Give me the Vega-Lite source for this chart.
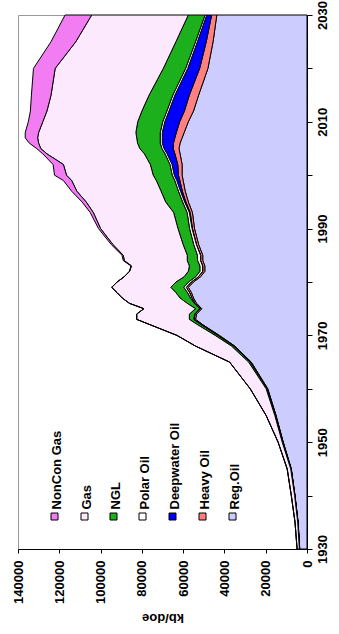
{
  "$schema": "https://vega.github.io/schema/vega-lite/v6.json",
  "autosize": {"type": "none"},
  "width": 289,
  "height": 534,
  "padding": {"left": 18, "top": 15, "right": 32, "bottom": 85},
  "background": "white",
  "config": {
    "view": {"stroke": "#999999", "strokeWidth": 1},
    "font": "Liberation Sans",
    "axis": {
      "labelFont": "Liberation Sans",
      "labelFontWeight": "bold",
      "labelFontSize": 13,
      "labelColor": "black",
      "titleFont": "Liberation Sans",
      "titleFontWeight": "bold",
      "titleFontSize": 13,
      "titleColor": "black",
      "domainColor": "black",
      "tickColor": "black",
      "grid": false
    },
    "legend": {
      "labelFont": "Liberation Sans",
      "labelFontWeight": "bold",
      "labelFontSize": 13,
      "labelColor": "black"
    }
  },
  "data": {
    "values": [
      {"year": 1930, "reg": 3500, "heavy": 100, "deep": 0, "polar": 0, "ngl": 100, "gas": 1100, "noncon": 0},
      {"year": 1935, "reg": 4300, "heavy": 100, "deep": 0, "polar": 0, "ngl": 100, "gas": 1300, "noncon": 0},
      {"year": 1940, "reg": 5800, "heavy": 100, "deep": 0, "polar": 0, "ngl": 100, "gas": 1600, "noncon": 0},
      {"year": 1945, "reg": 7600, "heavy": 100, "deep": 0, "polar": 0, "ngl": 200, "gas": 1700, "noncon": 0},
      {"year": 1950, "reg": 11500, "heavy": 200, "deep": 0, "polar": 0, "ngl": 300, "gas": 2000, "noncon": 0},
      {"year": 1955, "reg": 15000, "heavy": 200, "deep": 0, "polar": 0, "ngl": 400, "gas": 4200, "noncon": 0},
      {"year": 1960, "reg": 19000, "heavy": 300, "deep": 0, "polar": 0, "ngl": 500, "gas": 7700, "noncon": 0},
      {"year": 1965, "reg": 27000, "heavy": 500, "deep": 0, "polar": 0, "ngl": 800, "gas": 9200, "noncon": 0},
      {"year": 1968, "reg": 35000, "heavy": 600, "deep": 0, "polar": 0, "ngl": 1000, "gas": 17400, "noncon": 0},
      {"year": 1970, "reg": 42500, "heavy": 700, "deep": 0, "polar": 0, "ngl": 1300, "gas": 18500, "noncon": 0},
      {"year": 1972, "reg": 50500, "heavy": 800, "deep": 0, "polar": 0, "ngl": 1700, "gas": 23000, "noncon": 0},
      {"year": 1973, "reg": 54000, "heavy": 800, "deep": 0, "polar": 100, "ngl": 2100, "gas": 25500, "noncon": 0},
      {"year": 1974, "reg": 53500, "heavy": 800, "deep": 0, "polar": 100, "ngl": 2600, "gas": 25500, "noncon": 0},
      {"year": 1975, "reg": 51000, "heavy": 800, "deep": 0, "polar": 200, "ngl": 2000, "gas": 25000, "noncon": 0},
      {"year": 1976, "reg": 53500, "heavy": 800, "deep": 0, "polar": 300, "ngl": 3400, "gas": 28000, "noncon": 0},
      {"year": 1977, "reg": 55000, "heavy": 800, "deep": 0, "polar": 700, "ngl": 5000, "gas": 28000, "noncon": 0},
      {"year": 1978, "reg": 56000, "heavy": 900, "deep": 0, "polar": 1000, "ngl": 5600, "gas": 28500, "noncon": 0},
      {"year": 1979, "reg": 57500, "heavy": 1000, "deep": 0, "polar": 1200, "ngl": 6300, "gas": 28600, "noncon": 0},
      {"year": 1980, "reg": 55000, "heavy": 1000, "deep": 100, "polar": 1300, "ngl": 6100, "gas": 28500, "noncon": 0},
      {"year": 1981, "reg": 51500, "heavy": 1000, "deep": 100, "polar": 1300, "ngl": 5600, "gas": 29000, "noncon": 0},
      {"year": 1982, "reg": 49500, "heavy": 1000, "deep": 100, "polar": 1300, "ngl": 5600, "gas": 28500, "noncon": 0},
      {"year": 1983, "reg": 49500, "heavy": 1000, "deep": 100, "polar": 1300, "ngl": 5100, "gas": 28000, "noncon": 300},
      {"year": 1984, "reg": 50500, "heavy": 1000, "deep": 100, "polar": 1400, "ngl": 5000, "gas": 30500, "noncon": 500},
      {"year": 1985, "reg": 50500, "heavy": 1000, "deep": 100, "polar": 1500, "ngl": 4900, "gas": 31000, "noncon": 600},
      {"year": 1987, "reg": 52500, "heavy": 1000, "deep": 100, "polar": 1300, "ngl": 5100, "gas": 34000, "noncon": 800},
      {"year": 1990, "reg": 54500, "heavy": 1000, "deep": 200, "polar": 1200, "ngl": 5600, "gas": 37500, "noncon": 1000},
      {"year": 1993, "reg": 55500, "heavy": 1100, "deep": 400, "polar": 1100, "ngl": 6500, "gas": 38900, "noncon": 1500},
      {"year": 1995, "reg": 57500, "heavy": 1200, "deep": 600, "polar": 1000, "ngl": 8200, "gas": 38500, "noncon": 2000},
      {"year": 1997, "reg": 59000, "heavy": 1400, "deep": 900, "polar": 1000, "ngl": 8400, "gas": 40800, "noncon": 2500},
      {"year": 1999, "reg": 60000, "heavy": 1600, "deep": 1500, "polar": 1000, "ngl": 8900, "gas": 41000, "noncon": 4000},
      {"year": 2000, "reg": 60500, "heavy": 1800, "deep": 2000, "polar": 1000, "ngl": 9200, "gas": 42000, "noncon": 5800},
      {"year": 2002, "reg": 60500, "heavy": 2100, "deep": 2800, "polar": 1000, "ngl": 9500, "gas": 42100, "noncon": 5000},
      {"year": 2004, "reg": 61500, "heavy": 2500, "deep": 3800, "polar": 1000, "ngl": 10000, "gas": 47200, "noncon": 2000},
      {"year": 2005, "reg": 62000, "heavy": 2800, "deep": 4500, "polar": 1000, "ngl": 10700, "gas": 48000, "noncon": 2000},
      {"year": 2006, "reg": 61500, "heavy": 3200, "deep": 5400, "polar": 1000, "ngl": 11000, "gas": 47900, "noncon": 4500},
      {"year": 2007, "reg": 60500, "heavy": 3500, "deep": 6100, "polar": 1000, "ngl": 11400, "gas": 48000, "noncon": 6000},
      {"year": 2008, "reg": 59500, "heavy": 3800, "deep": 6800, "polar": 1000, "ngl": 11800, "gas": 47100, "noncon": 6500},
      {"year": 2010, "reg": 57500, "heavy": 4200, "deep": 7200, "polar": 1000, "ngl": 12100, "gas": 46000, "noncon": 7000},
      {"year": 2012, "reg": 55000, "heavy": 4400, "deep": 7500, "polar": 1000, "ngl": 12100, "gas": 46000, "noncon": 8000},
      {"year": 2015, "reg": 52500, "heavy": 4500, "deep": 7000, "polar": 1000, "ngl": 11500, "gas": 47500, "noncon": 9500},
      {"year": 2020, "reg": 48000, "heavy": 4000, "deep": 5800, "polar": 1000, "ngl": 10800, "gas": 52400, "noncon": 10500},
      {"year": 2025, "reg": 45500, "heavy": 3300, "deep": 4300, "polar": 900, "ngl": 9500, "gas": 48500, "noncon": 12000},
      {"year": 2030, "reg": 43700, "heavy": 2500, "deep": 2400, "polar": 800, "ngl": 8100, "gas": 46800, "noncon": 12900}
    ]
  },
  "transform": [
    {"fold": ["reg", "heavy", "deep", "polar", "ngl", "gas", "noncon"], "as": ["series", "kbdoe"]},
    {"window": [{"op": "row_number", "as": "layer"}], "groupby": ["year"]}
  ],
  "mark": {"type": "area", "orient": "horizontal", "stroke": "black", "strokeWidth": 1, "strokeJoin": "round"},
  "encoding": {
    "y": {
      "field": "year",
      "type": "quantitative",
      "scale": {"domain": [1930, 2030], "nice": false, "zero": false},
      "axis": {
        "orient": "right",
        "title": null,
        "values": [1930, 1940, 1950, 1960, 1970, 1980, 1990, 2000, 2010, 2020, 2030],
        "format": "d",
        "labelExpr": "datum.value % 20 == 10 ? datum.label : ''",
        "labelAngle": 270,
        "labelAlign": "center",
        "labelBaseline": "top",
        "tickSize": 5,
        "labelPadding": 4
      }
    },
    "x": {
      "field": "kbdoe",
      "type": "quantitative",
      "stack": "zero",
      "scale": {"domain": [0, 140000], "reverse": true, "nice": false},
      "axis": {
        "orient": "bottom",
        "title": "kb/doe",
        "values": [0, 20000, 40000, 60000, 80000, 100000, 120000, 140000],
        "format": "d",
        "labelAngle": 270,
        "tickSize": 4,
        "labelPadding": 7,
        "titleAngle": 180,
        "titleBaseline": "bottom",
        "titlePadding": 7
      }
    },
    "color": {
      "field": "series",
      "type": "nominal",
      "scale": {
        "domain": ["noncon", "gas", "ngl", "polar", "deep", "heavy", "reg"],
        "range": ["#F27CF2", "#FDE9FD", "#1CB01C", "#FFFFFF", "#0000FF", "#FF8080", "#CCCCFF"]
      },
      "legend": {
        "title": null,
        "orient": "none",
        "direction": "horizontal",
        "legendX": 30,
        "legendY": 495,
        "symbolType": "square",
        "symbolSize": 49,
        "symbolStrokeColor": "black",
        "symbolStrokeWidth": 1,
        "symbolOpacity": 1,
        "labelOffset": -4,
        "columnPadding": 13,
        "labelExpr": "{'noncon': 'NonCon Gas', 'gas': 'Gas', 'ngl': 'NGL', 'polar': 'Polar Oil', 'deep': 'Deepwater Oil', 'heavy': 'Heavy Oil', 'reg': 'Reg.Oil'}[datum.value]",
        "encoding": {
          "labels": {
            "angle": {"value": -90},
            "align": {"value": "left"},
            "baseline": {"value": "middle"},
            "dx": {"value": 7}
          }
        }
      }
    },
    "order": {"field": "layer", "type": "quantitative"}
  }
}
